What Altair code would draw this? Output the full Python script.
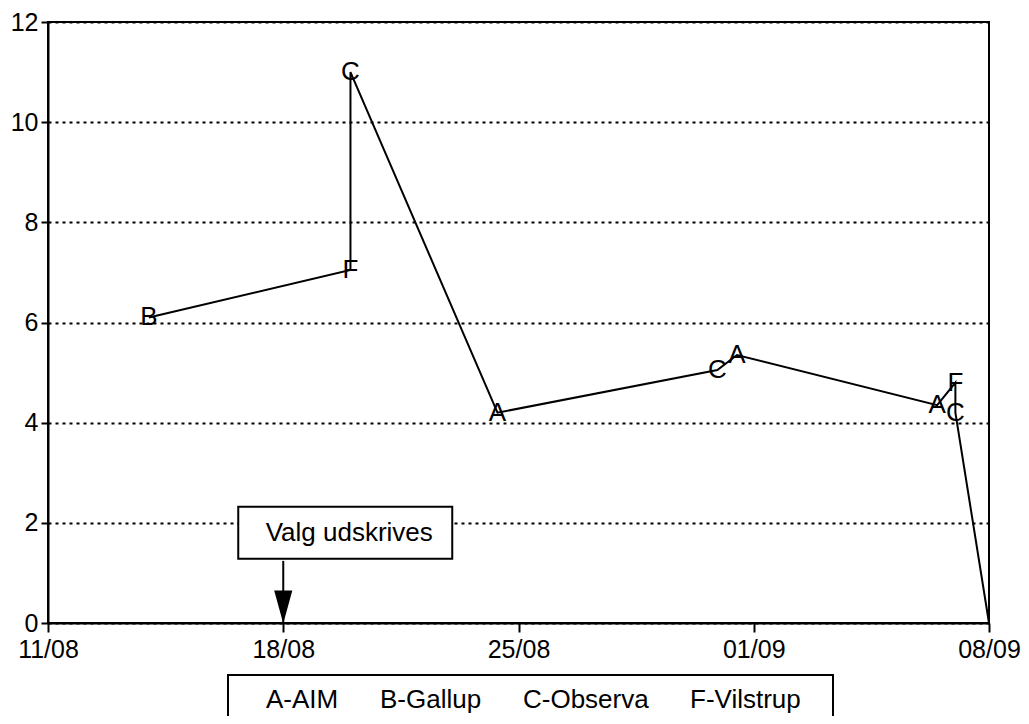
import altair as alt
import pandas as pd

# ---- data ----
dates = [
    "1994-08-14T00:00:00Z",
    "1994-08-20T00:00:00Z",
    "1994-08-20T00:00:00Z",
    "1994-08-24T09:00:00Z",
    "1994-08-30T22:00:00Z",
    "1994-08-31T12:00:00Z",
    "1994-09-06T11:00:00Z",
    "1994-09-07T00:00:00Z",
    "1994-09-07T00:00:00Z",
    "1994-09-08T00:00:00Z",
]
values = [6.1, 7.05, 11.0, 4.2, 5.05, 5.35, 4.35, 4.8, 4.2, 0.0]
letters = ["B", "F", "C", "A", "C", "A", "A", "F", "C", ""]

inst_letters = ["A", "B", "C", "F"]
inst_names = ["A-AIM", "B-Gallup", "C-Observa", "F-Vilstrup"]

x_ticks = ["11/08", "18/08", "25/08", "01/09", "08/09"]
x_tick_dates = [(1994, 8, 11), (1994, 8, 18), (1994, 8, 25), (1994, 9, 1), (1994, 9, 8)]
y_ticks = [0, 2, 4, 6, 8, 10, 12]

ann_date = ["1994-08-18T00:00:00Z"]
ann_text = ["Valg udskrives"]
ann_y = [1.8]

FONT = "Liberation Sans"

name_of = dict(zip(inst_letters, inst_names))
df = pd.DataFrame({
    "dato": dates,
    "pct": values,
    "bogstav": letters,
    "institut": [name_of.get(l, "") for l in letters],
    "nr": list(range(len(dates))),
})
ann = pd.DataFrame({"dato": ann_date, "tekst": ann_text, "y": ann_y, "y0": [0.0]})

xdt = [alt.DateTime(year=y, month=m, date=d, utc=True) for (y, m, d) in x_tick_dates]

x_scale = alt.Scale(type="utc", domain=[xdt[0], xdt[-1]])
y_scale = alt.Scale(domain=[0, 12], nice=False)

x_enc = alt.X(
    "dato:T",
    scale=x_scale,
    axis=alt.Axis(
        values=xdt, format="%d/%m", title=None, grid=False,
        tickSize=9, labelPadding=5, labelFlush=False, labelOverlap=False,
    ),
)
y_enc = alt.Y(
    "pct:Q",
    scale=y_scale,
    axis=alt.Axis(
        values=y_ticks, title=None, grid=True, gridDash=[3, 4],
        gridColor="black", gridWidth=2, tickSize=7, labelPadding=3,
    ),
)

base = alt.Chart(df)

line = base.mark_line(color="black", strokeWidth=2).encode(
    x=x_enc, y=y_enc, order="nr:Q"
)

text = base.transform_filter("datum.bogstav != ''").mark_text(
    fontSize=26, font=FONT, align="center", baseline="middle"
).encode(
    x="dato:T",
    y="pct:Q",
    text="bogstav:N",
    color=alt.Color(
        "institut:N",
        scale=alt.Scale(domain=inst_names, range=["black"] * len(inst_names)),
        legend=alt.Legend(
            orient="none", legendX=180, legendY=653, direction="horizontal",
            title=" ", titleOrient="right", titlePadding=20, titleFontSize=26,
            symbolSize=0, symbolOpacity=0, symbolStrokeWidth=0,
            labelFontSize=26, labelFont=FONT, labelColor="black",
            labelOffset=0, columnPadding=15, padding=12,
            strokeColor="black", fillColor="white",
        ),
    ),
)

abase = alt.Chart(ann)
box = abase.mark_rect(
    fill="white", stroke="black", strokeWidth=2,
    xOffset=-45, x2Offset=169, yOffset=-26, y2Offset=26,
).encode(x="dato:T", x2="dato:T", y="y:Q", y2="y:Q")

box_text = abase.mark_text(
    fontSize=26, font=FONT, align="center", baseline="middle", dx=66, color="black"
).encode(x="dato:T", y="y:Q", text="tekst:N")

stem = abase.mark_rule(color="black", strokeWidth=2, yOffset=28).encode(
    x="dato:T", y="y:Q", y2="y0:Q"
)

head = abase.mark_point(
    shape="M-0.55,-1L0.55,-1L0,1Z", size=1089, filled=True, fill="black",
    opacity=1, yOffset=-16,
).encode(x="dato:T", y="y0:Q")

chart = alt.layer(box, box_text, stem, head, line, text).properties(
    width=941, height=601,
    autosize=alt.AutoSizeParams(type="none"),
    padding={"left": 40, "top": 14, "right": 32, "bottom": 93},
    background="white",
).configure_view(
    stroke="black", strokeWidth=2
).configure_axis(
    labelFont=FONT, labelFontSize=25, labelColor="black",
    domainColor="black", domainWidth=2, tickColor="black", tickWidth=2,
).configure_legend(
    strokeWidth=2
)

chart.save("out.html", embed_options={"renderer": "svg", "actions": False})
